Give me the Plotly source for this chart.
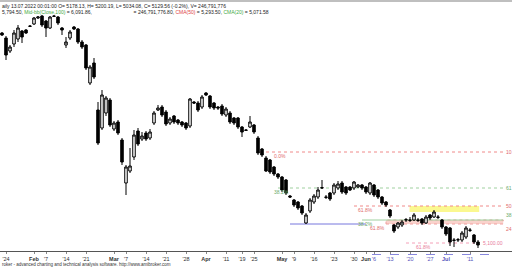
import plotly.graph_objects as go

# ---- data (daily candles, 20 Jan .. 13 Jul 2022) ----
opens = [7003,6958,6841,6904,6949,7021,7030,7066,7084,7138,
         7156,7111,7048,7156,7147,7048,6895,6958,7057,7039,
         6922,6895,6553,6733,6310,6148,6283,6400,6139,6202,
         6040,5653,5761,5887,6121,6049,6103,6058,6193,6310,
         6337,6292,6193,6256,6220,6202,6193,6166,6382,6373,
         6337,6463,6436,6373,6337,6346,6265,6283,6238,6238,
         6157,6130,6157,6175,6058,5959,5878,5860,5797,5734,
         5707,5680,5536,5500,5482,5446,5293,5401,5482,5527,
         5608,5527,5563,5563,5608,5653,5617,5617,5608,5617,
         5635,5617,5563,5635,5590,5527,5482,5410,5275,5257,
         5275,5320,5320,5320,5320,5329,5293,5365,5347,5347,
         5320,5257,5248,5140,5140,5140,5167,5230,5185,5122]
highs = [7012,6976,6895,7030,7075,7030,7039,7075,7147,7156,
         7165,7120,7156,7165,7156,7057,6967,7030,7066,7048,
         6940,6904,6715,6778,6382,6490,6436,6418,6211,6220,
         6058,5815,5968,6130,6148,6112,6121,6139,6301,6355,
         6355,6310,6247,6265,6229,6211,6202,6418,6391,6391,
         6445,6472,6445,6382,6346,6364,6337,6301,6247,6247,
         6166,6139,6256,6184,6076,5968,5896,5869,5806,5743,
         5716,5689,5545,5509,5491,5455,5383,5518,5554,5617,
         5680,5545,5572,5653,5671,5671,5626,5626,5671,5644,
         5644,5626,5662,5644,5599,5536,5491,5419,5284,5302,
         5320,5338,5347,5383,5338,5338,5365,5374,5410,5365,
         5329,5266,5257,5158,5158,5221,5266,5248,5194,5140]
lows = [6976,6760,6823,6877,6922,6913,6994,7057,7075,7129,
        7057,6967,7039,7147,7075,6985,6868,6940,7030,6904,
        6859,6670,6535,6589,5995,6130,6256,6157,6121,6085,
        5815,5545,5743,5860,5986,6031,6031,6040,6175,6301,
        6247,6166,6175,6184,6175,6157,6130,6148,6364,6292,
        6319,6436,6319,6310,6310,6256,6247,6184,6175,6139,
        6067,6121,6148,6094,5905,5887,5752,5734,5716,5689,
        5572,5545,5518,5437,5410,5365,5284,5383,5464,5509,
        5599,5509,5491,5545,5590,5554,5545,5581,5590,5608,
        5590,5554,5545,5527,5509,5455,5437,5338,5203,5239,
        5257,5302,5302,5311,5302,5275,5284,5320,5338,5329,
        5239,5176,5086,5077,5122,5122,5149,5212,5104,5068]
closes = [6985,6805,6877,7003,7048,6967,7003,7063,7138,7147,
          7075,7048,7147,7153,7093,7030,6922,7012,7039,6922,
          6877,6688,6697,6607,6013,6445,6418,6175,6193,6103,
          5842,5797,5806,6085,6004,6076,6049,6112,6283,6328,
          6265,6184,6229,6202,6193,6175,6148,6409,6373,6310,
          6427,6445,6337,6328,6328,6274,6319,6202,6193,6157,
          6112,6127,6202,6112,5923,5905,5761,5752,5734,5707,
          5590,5563,5527,5455,5428,5383,5365,5500,5536,5590,
          5611,5524,5509,5635,5644,5572,5563,5590,5662,5635,
          5608,5572,5653,5545,5527,5473,5455,5356,5221,5293,
          5302,5323,5317,5365,5317,5293,5347,5338,5392,5344,
          5257,5194,5122,5137,5143,5203,5248,5227,5122,5095]

tick_pos = [1, 8, 11, 16, 21, 28, 31, 36, 41, 46, 51, 56, 60, 63, 70, 73, 78, 83, 88, 91,
            93, 97, 102, 107, 111, 117]
tick_labels = ["'24", "Feb", "'7", "'14", "'21", "Mar", "'7", "'14", "'21", "'28", "Apr", "'11",
               "'19", "'25", "May", "'9", "'16", "'23", "'30", "Jun",
               "'6", "'13", "'20", "'27", "Jul", "'11"]

# Fibonacci / level lines
level_prices = [5932, 5608, 5446, 5320, 5284, 5113]
level_start = [64.5, 69, 88, 90, 72, 101]
level_end = [125.3, 125.3, 125.3, 125.3, 91, 119]
level_colors = ["#f08a8a", "#9fd09f", "#f08a8a", "#9fd09f", "#7777dd", "#f4a0b8"]
level_dash = ["dot", "dot", "dot", "solid", "solid", "dot"]
level_labels = ["0.0%", "38.2%", "61.8%", "38.2%", "61.8%", "61.8%"]
level_label_x = [67.5, 67.5, 88.5, 88.5, 91.5, 103]
level_label_colors = ["#e06a6a", "#6aaa6a", "#e06a6a", "#6aaa6a", "#e06a6a", "#e87a9a"]

right_labels = ["10", "61", "50", "38", "24"]
right_prices = [5932, 5608, 5446, 5320, 5284]
right_anchor = ["middle", "middle", "middle", "bottom", "top"]
right_colors = ["#e06a6a", "#6aaa6a", "#e06a6a", "#6aaa6a", "#e06a6a"]

yellow_zone = (101.9, 119.3, 5392, 5446)
red_zone = (96, 125.3, 5284, 5320)

x_idx = list(range(len(opens)))

fig = go.Figure()
fig.add_trace(go.Candlestick(
    x=x_idx, open=opens, high=highs, low=lows, close=closes,
    increasing=dict(fillcolor="white", line=dict(color="black", width=1)),
    decreasing=dict(fillcolor="black", line=dict(color="black", width=1)),
    whiskerwidth=0, hoverinfo="skip"))

shapes = []
shapes.append(dict(type="rect", xref="x", yref="y", x0=yellow_zone[0], x1=yellow_zone[1],
                   y0=yellow_zone[2], y1=yellow_zone[3], fillcolor="#fbf890",
                   line=dict(width=0), layer="below"))
shapes.append(dict(type="rect", xref="x", yref="y", x0=red_zone[0], x1=red_zone[1],
                   y0=red_zone[2], y1=red_zone[3], fillcolor="#f9d2cc",
                   line=dict(color="#f0a0a0", width=1, dash="dot"), layer="below"))
for p, s, e, c, d in zip(level_prices, level_start, level_end, level_colors, level_dash):
    shapes.append(dict(type="line", xref="x", yref="y", x0=s, x1=e, y0=p, y1=p,
                       line=dict(color=c, width=1, dash=d), layer="below"))
shapes.append(dict(type="line", xref="paper", yref="paper", x0=0, x1=1, y0=1, y1=1,
                   line=dict(color="#aaaaaa", width=1.5)))
shapes.append(dict(type="line", xref="paper", yref="paper", x0=372/512, x1=496/512,
                   y0=-0.014, y1=-0.014, line=dict(color="#8888dd", width=1, dash="dash")))

annotations = []
for t, xl, p, c in zip(level_labels, level_label_x, level_prices, level_label_colors):
    annotations.append(dict(x=xl, y=p, xref="x", yref="y", text=t, showarrow=False,
                            xanchor="left", yanchor="top", yshift=1,
                            font=dict(size=5, color=c, family="Arial")))
annotations.append(dict(x=119.7, y=level_prices[-1], xref="x", yref="y", text="5,100.00",
                        showarrow=False, xanchor="left", yanchor="middle",
                        font=dict(size=5, color="#e87a9a", family="Arial")))
for t, p, a, c in zip(right_labels, right_prices, right_anchor, right_colors):
    annotations.append(dict(x=125.6, y=p, xref="x", yref="y", text=t, showarrow=False,
                            xanchor="left", yanchor=a,
                            font=dict(size=5, color=c, family="Arial")))

hdr1 = "aily 13.07.2022 00:01:00 O= 5178.13, H= 5200.19, L= 5034.08, C= 5129.56 (-0.2%), V= 246,791,776"
hdr2 = ("5,794.50, <span style='color:#44aa44'>Mid-bb(Close,100)</span> = 6,091.86,"
        "                              = 246,791,776.80, <span style='color:#dd4444'>CMA(50)</span> = 5,293.50, "
        "<span style='color:#44aa44'>CMA(20)</span> = 5,071.58")
annotations.append(dict(x=0, y=1, xref="paper", yref="paper", text=hdr1, showarrow=False,
                        xanchor="left", yanchor="top", yshift=0,
                        font=dict(size=5, color="#222222", family="Arial")))
annotations.append(dict(x=0, y=1, xref="paper", yref="paper", text=hdr2, showarrow=False,
                        xanchor="left", yanchor="top", yshift=-6,
                        font=dict(size=5, color="#222222", family="Arial")))
annotations.append(dict(x=0, y=0, xref="paper", yref="paper",
                        text="roker - advanced charting and technical analysis software. http://www.amibroker.com",
                        showarrow=False, xanchor="left", yanchor="top", yshift=-9,
                        font=dict(size=4.5, color="#333333", family="Arial")))

ticktext = []
for i, t in enumerate(tick_labels):
    lab = "<b>" + t + "</b>" if not t.startswith("'") else t
    if tick_pos[i] > 91:
        lab = "<span style='color:#5555bb'>" + lab + "</span>"
    ticktext.append(lab)

fig.update_layout(
    width=512, height=270, margin=dict(l=0, r=0, t=1, b=19),
    paper_bgcolor="white", plot_bgcolor="white", showlegend=False,
    shapes=shapes, annotations=annotations, boxgap=0.1,
    xaxis=dict(range=[-0.5, 127.5], rangeslider=dict(visible=False), showgrid=False,
               zeroline=False, showline=True, linecolor="#555555", linewidth=1,
               tickvals=tick_pos, ticktext=ticktext, ticks="outside", ticklen=2,
               tickangle=0,
               tickcolor="#888888", tickfont=dict(size=5.5, color="#333333", family="Arial")),
    yaxis=dict(range=[5041, 7291], showgrid=False, zeroline=False, showticklabels=False,
               showline=False),
)

fig.write_html("out.html")
